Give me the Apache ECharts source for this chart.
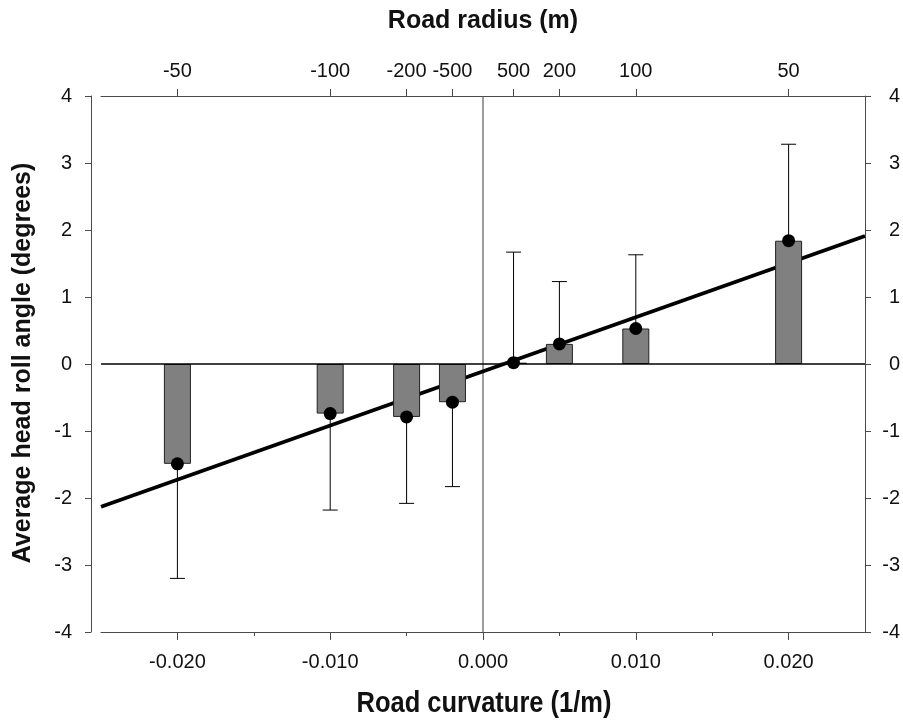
<!DOCTYPE html>
<html>
<head>
<meta charset="utf-8">
<script src="https://cdn.jsdelivr.net/npm/echarts@6/dist/echarts.min.js"></script>
<style>
html,body{margin:0;padding:0;background:#fff;}
#chart{width:903px;height:721px;}
</style>
</head>
<body>
<div id="chart"></div>
<script>
// ---- data ----
const curvature = [-0.020, -0.010, -0.005, -0.002, 0.002, 0.005, 0.010, 0.020];
const meanRoll  = [-1.49, -0.74, -0.79, -0.57, 0.02, 0.30, 0.53, 1.84];
const errorEnd  = [-3.20, -2.18, -2.08, -1.83, 1.67, 1.23, 1.63, 3.28];
const fitX = [-0.025, 0.025];
const fitY = [-2.13, 1.91];

const curvatureTickValues = [-0.020, -0.010, 0.000, 0.010, 0.020];
const curvatureTickLabels = ['-0.020', '-0.010', '0.000', '0.010', '0.020'];
const curvatureMinorTicks = [-0.015, -0.005, 0.005, 0.015];
const radiusTickValues = [-0.020, -0.010, -0.005, -0.002, 0.002, 0.005, 0.010, 0.020];
const radiusTickLabels = ['-50', '-100', '-200', '-500', '500', '200', '100', '50'];

const xMin = -0.025, xMax = 0.025;
const yMin = -4, yMax = 4;

function lookup(values, labels) {
  return function (v) {
    let best = -1, bd = Infinity;
    values.forEach((t, i) => { const d = Math.abs(t - v); if (d < bd) { bd = d; best = i; } });
    return bd < 1e-6 ? labels[best] : '';
  };
}

const FONT = 'Liberation Sans, Arial, sans-serif';
const axisColor = '#4a4a4a';

const chart = echarts.init(document.getElementById('chart'), null, {renderer: 'canvas'});

const option = {
  backgroundColor: '#fff',
  animation: false,
  grid: {left: 101, right: 36, top: 96, bottom: 89, containLabel: false},
  xAxis: [
    {
      type: 'value', position: 'bottom', min: xMin, max: xMax,
      axisLine: {show: true, onZero: false, lineStyle: {color: axisColor, width: 1}},
      axisTick: {show: true, length: 8, customValues: curvatureTickValues, lineStyle: {color: axisColor}},
      axisLabel: {show: true, customValues: curvatureTickValues, formatter: lookup(curvatureTickValues, curvatureTickLabels),
                  margin: 20, fontSize: 20, color: '#111', fontFamily: FONT},
      splitLine: {show: false}
    },
    {
      type: 'value', position: 'bottom', min: xMin, max: xMax,
      axisLine: {show: false, onZero: false},
      axisTick: {show: true, length: 4, customValues: curvatureMinorTicks, lineStyle: {color: axisColor}},
      axisLabel: {show: false},
      splitLine: {show: false}
    },
    {
      type: 'value', position: 'top', min: xMin, max: xMax,
      axisLine: {show: true, onZero: false, lineStyle: {color: axisColor, width: 1}},
      axisTick: {show: true, length: 7, customValues: radiusTickValues, lineStyle: {color: axisColor}},
      axisLabel: {show: true, customValues: radiusTickValues, formatter: lookup(radiusTickValues, radiusTickLabels),
                  margin: 15, fontSize: 20, color: '#111', fontFamily: FONT},
      splitLine: {show: false}
    }
  ],
  yAxis: [
    {
      type: 'value', position: 'left', min: yMin, max: yMax, interval: 1, offset: 10,
      axisLine: {show: true, onZero: false, lineStyle: {color: axisColor, width: 1}},
      axisTick: {show: true, length: 6, lineStyle: {color: axisColor}},
      axisLabel: {margin: 19, fontSize: 20, color: '#111', fontFamily: FONT},
      splitLine: {show: false}
    },
    {
      type: 'value', position: 'right', min: yMin, max: yMax, interval: 1,
      axisLine: {show: true, onZero: false, lineStyle: {color: axisColor, width: 1}},
      axisTick: {show: true, length: 6, lineStyle: {color: axisColor}},
      axisLabel: {margin: 35, align: 'right', fontSize: 20, color: '#111', fontFamily: FONT},
      splitLine: {show: false}
    }
  ],
  graphic: [
    {type: 'text', x: 483, y: 21, z: 10,
     style: {text: 'Road radius (m)', font: 'bold 25px ' + FONT, fill: '#111', align: 'center', verticalAlign: 'middle'}},
    {type: 'text', x: 484, y: 704, scaleX: 0.85, z: 10,
     style: {text: 'Road curvature (1/m)', font: 'bold 30px ' + FONT, fill: '#111', align: 'center', verticalAlign: 'middle'}},
    {type: 'text', x: 23, y: 363, rotation: Math.PI / 2, z: 10,
     style: {text: 'Average head roll angle (degrees)', font: 'bold 25px ' + FONT, fill: '#111', align: 'center', verticalAlign: 'middle'}}
  ],
  series: [
    { // vertical zero line
      type: 'line', xAxisIndex: 0, yAxisIndex: 0, z: 1, silent: true, symbol: 'none',
      data: [[0, yMin], [0, yMax]],
      lineStyle: {color: '#5a5a5a', width: 1.2}
    },
    { // regression line
      type: 'line', xAxisIndex: 0, yAxisIndex: 0, z: 2, silent: true, symbol: 'none',
      data: fitX.map((x, i) => [x, fitY[i]]),
      lineStyle: {color: '#000', width: 3.8}
    },
    { // bars
      type: 'bar', xAxisIndex: 0, yAxisIndex: 0, z: 3, barWidth: 27,
      data: curvature.map((x, i) => [x, meanRoll[i]]),
      itemStyle: {color: '#808080', borderColor: '#222', borderWidth: 1}
    },
    { // horizontal zero line
      type: 'line', xAxisIndex: 0, yAxisIndex: 0, z: 4, silent: true, symbol: 'none',
      data: [[xMin, 0], [xMax, 0]],
      lineStyle: {color: '#000', width: 1.5}
    },
    { // error bars
      type: 'custom', xAxisIndex: 0, yAxisIndex: 0, z: 5,
      data: curvature.map((x, i) => [x, meanRoll[i], errorEnd[i]]),
      encode: {x: 0, y: [1, 2]},
      renderItem: function (params, api) {
        const x = api.value(0);
        const p0 = api.coord([x, api.value(1)]);
        const p1 = api.coord([x, api.value(2)]);
        const half = 7.5;
        return {
          type: 'group',
          children: [
            {type: 'line', shape: {x1: p0[0], y1: p0[1], x2: p1[0], y2: p1[1]}, style: {stroke: '#000', lineWidth: 1}},
            {type: 'line', shape: {x1: p1[0] - half, y1: p1[1], x2: p1[0] + half, y2: p1[1]}, style: {stroke: '#000', lineWidth: 1}}
          ]
        };
      }
    },
    { // mean points
      type: 'scatter', xAxisIndex: 0, yAxisIndex: 0, z: 6,
      symbol: 'circle', symbolSize: 13,
      data: curvature.map((x, i) => [x, meanRoll[i]]),
      itemStyle: {color: '#000', opacity: 1}
    }
  ]
};
chart.setOption(option);
</script>
</body>
</html>
